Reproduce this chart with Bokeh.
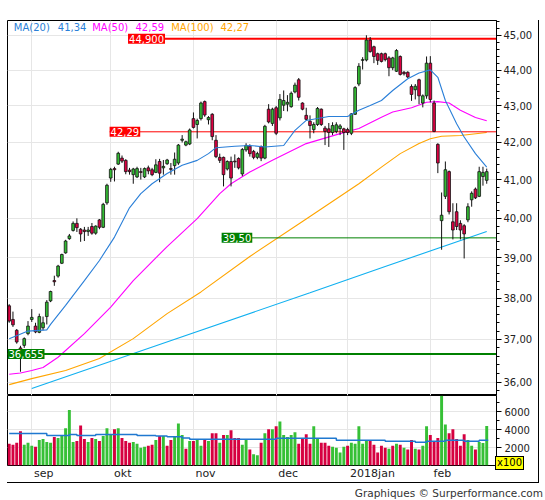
from bokeh.plotting import figure
from bokeh.models import (Range1d, FixedTicker, CustomJSTickFormatter, Label,
                          Div, ColumnDataSource)
from bokeh.layouts import column
from bokeh.embed import file_html
from bokeh.resources import INLINE
from bokeh.core.properties import value

FONT = "DejaVu Sans"

# ------------------------------------------------------------------ data
month_labels = ["sep", "okt", "nov", "dec", "2018jan", "feb"]
month_start = [6, 27, 49, 71, 90, 112]          # trading-day index of first day of month

opens = [37.81, 37.48, 37.22, 36.80, 36.86, 37.14, 37.48, 37.32, 37.17, 37.28,
         37.55, 37.93, 38.43, 38.54, 38.86, 39.12, 39.48, 39.69, 39.87, 39.72,
         39.70, 39.66, 39.79, 39.62, 39.96, 39.77, 40.40, 41.05, 41.30, 41.42,
         41.58, 41.52, 41.26, 41.14, 41.08, 41.22, 41.08, 41.32, 41.27, 41.20,
         41.49, 41.32, 41.43, 41.30, 41.38, 41.45, 42.06, 41.93, 41.96, 42.65,
         42.49, 42.65, 43.12, 42.62, 42.77, 42.06, 41.60, 41.60, 41.29, 41.49,
         41.50, 41.57, 41.16, 41.80, 41.90, 41.76, 41.60, 41.89, 41.58, 42.91,
         42.52, 42.95, 42.67, 43.02, 43.05, 42.98, 43.39, 43.73, 43.08, 42.74,
         42.58, 42.35, 42.49, 42.91, 42.39, 42.37, 42.27, 42.30, 42.38, 42.37,
         42.35, 42.25, 42.77, 43.61, 44.28, 44.29, 44.86, 44.67, 44.47, 44.47,
         44.47, 44.35, 44.07, 43.97, 44.39, 43.94, 43.94, 43.54, 43.45, 43.73,
         43.08, 43.28, 44.20, 43.08, 41.95, 39.94, 40.57, 41.22, 39.91, 40.17,
         39.87, 39.81, 39.96, 40.48, 40.76, 40.57, 41.09, 40.99]
highs = [37.85, 37.67, 37.25, 36.85, 37.05, 37.44, 37.73, 37.40, 37.62, 37.55,
         37.95, 38.18, 38.55, 38.82, 39.10, 39.45, 39.60, 39.92, 40.00, 39.75,
         39.78, 39.78, 39.88, 39.82, 39.98, 40.40, 40.90, 41.32, 41.35, 41.75,
         41.65, 41.55, 41.32, 41.32, 41.35, 41.32, 41.33, 41.38, 41.32, 41.55,
         41.56, 41.53, 41.56, 41.45, 41.73, 41.96, 42.20, 42.05, 42.38, 42.82,
         42.65, 43.12, 43.15, 42.72, 42.80, 42.20, 41.70, 41.62, 41.52, 41.62,
         41.68, 41.60, 41.85, 41.98, 41.95, 41.80, 41.75, 41.92, 42.48, 43.05,
         42.95, 43.00, 43.33, 43.43, 43.30, 43.40, 43.65, 43.78, 43.10, 42.95,
         42.74, 42.55, 42.97, 42.93, 42.45, 42.53, 42.55, 42.55, 42.50, 42.40,
         42.40, 42.80, 43.55, 44.20, 44.37, 45.00, 44.95, 44.70, 44.50, 44.50,
         44.50, 44.40, 44.38, 44.60, 44.42, 43.98, 43.97, 43.60, 43.61, 43.76,
         43.32, 44.39, 44.40, 43.15, 41.98, 40.67, 41.49, 41.25, 40.39, 40.39,
         39.95, 39.85, 40.39, 40.70, 40.80, 41.35, 41.35, 41.30]
lows = [37.40, 37.30, 36.90, 36.24, 36.80, 37.10, 37.42, 37.15, 37.15, 37.22,
        37.36, 37.90, 38.30, 38.50, 38.84, 39.10, 39.45, 39.66, 39.65, 39.40,
        39.42, 39.55, 39.58, 39.58, 39.72, 39.75, 40.35, 40.95, 40.96, 41.40,
        41.45, 41.15, 41.14, 40.90, 41.05, 41.01, 41.05, 41.15, 41.10, 41.18,
        40.94, 41.14, 41.40, 41.14, 41.14, 41.40, 42.00, 41.90, 41.93, 42.38,
        42.11, 42.60, 42.70, 42.49, 42.06, 41.58, 41.45, 40.83, 41.25, 40.83,
        41.32, 41.28, 41.10, 41.75, 41.62, 41.55, 41.55, 41.50, 41.55, 42.52,
        42.45, 42.20, 42.60, 42.86, 42.85, 42.95, 43.35, 43.15, 42.88, 42.60,
        42.11, 42.25, 42.45, 42.45, 41.93, 41.88, 42.20, 42.25, 42.20, 41.80,
        42.20, 42.20, 42.75, 43.55, 44.02, 44.25, 44.50, 44.20, 44.15, 44.22,
        44.25, 43.83, 44.00, 43.95, 43.85, 43.85, 43.78, 43.14, 43.18, 43.05,
        42.96, 43.20, 43.10, 42.28, 41.18, 39.20, 40.50, 40.10, 39.46, 39.70,
        39.46, 38.98, 39.90, 40.30, 40.50, 40.55, 40.85, 40.90]
closes = [37.44, 37.35, 36.94, 36.62, 37.02, 37.32, 37.53, 37.18, 37.55, 37.40,
          37.90, 38.16, 38.40, 38.79, 39.08, 39.42, 39.55, 39.87, 39.76, 39.60,
          39.66, 39.70, 39.62, 39.80, 39.77, 40.36, 40.86, 41.28, 41.27, 41.71,
          41.50, 41.22, 41.22, 41.29, 41.30, 41.20, 41.30, 41.24, 41.14, 41.40,
          41.18, 41.36, 41.53, 41.28, 41.55, 41.93, 42.09, 42.02, 42.34, 42.41,
          42.60, 43.08, 42.75, 42.68, 42.16, 41.62, 41.52, 41.14, 41.49, 41.05,
          41.48, 41.32, 41.81, 41.92, 41.70, 41.60, 41.70, 41.58, 42.44, 42.56,
          42.91, 42.25, 43.18, 43.15, 43.10, 43.35, 43.58, 43.24, 42.91, 42.63,
          42.46, 42.49, 42.93, 42.49, 42.30, 42.27, 42.46, 42.48, 42.45, 42.27,
          42.27, 42.78, 43.51, 44.11, 44.30, 44.86, 44.53, 44.39, 44.28, 44.25,
          44.30, 44.07, 44.35, 44.56, 43.88, 43.90, 43.81, 43.32, 43.55, 43.28,
          43.28, 44.20, 43.18, 42.30, 41.45, 40.08, 41.27, 40.17, 39.70, 39.79,
          39.70, 39.60, 40.30, 40.65, 40.53, 41.22, 41.20, 41.22]

volumes = [2420, 2310, 2530, 3820, 2310, 2530, 2200, 2100, 2850, 2960,
           2630, 2530, 3170, 3060, 3390, 4140, 6180, 2630, 2740, 4460,
           2960, 2630, 3060, 2960, 2740, 3280, 4140, 3490, 4030, 4140,
           3060, 2740, 2530, 2630, 2420, 1990, 2100, 2200, 2310, 2850,
           3280, 3280, 2200, 2850, 3170, 4680, 3390, 1880, 2740, 2740,
           2850, 2200, 2850, 2740, 3600, 3600, 2530, 3390, 3390, 3920,
           3060, 3060, 2310, 2890, 1770, 1240, 1130, 2530, 3600, 4030,
           4030, 4360, 4890, 3390, 3170, 3390, 3710, 2420, 3060, 3490,
           2420, 4360, 3060, 2530, 2530, 2200, 2100, 1990, 1450, 2100,
           2200, 2530, 2420, 4360, 2420, 2740, 2740, 2310, 1450, 2200,
           1990, 1880, 2200, 2420, 2310, 1990, 1770, 2850, 1880, 1770,
           2200, 4360, 3390, 2740, 3060, 7760, 4570, 3600, 4030, 2960,
           2200, 3490, 2850, 2200, 1770, 2630, 2500, 4400]
volume_dir = ["r", "r", "r", "r", "g", "g", "g", "r", "g", "g",
              "g", "g", "r", "g", "g", "g", "g", "g", "r", "r",
              "r", "g", "r", "g", "r", "g", "g", "g", "r", "g",
              "r", "r", "r", "g", "g", "g", "g", "r", "r", "g",
              "r", "g", "r", "r", "g", "g", "g", "r", "g", "r",
              "g", "g", "r", "g", "r", "r", "g", "r", "g", "r",
              "r", "r", "g", "g", "r", "g", "g", "r", "g", "r",
              "g", "r", "g", "g", "g", "g", "g", "r", "r", "r",
              "r", "g", "g", "r", "r", "r", "g", "g", "g", "g",
              "r", "g", "g", "g", "g", "g", "r", "r", "r", "r",
              "r", "g", "r", "g", "r", "g", "r", "r", "g", "r",
              "g", "g", "r", "r", "r", "g", "g", "r", "r", "r",
              "r", "r", "g", "g", "r", "g", "g", "g"]

vol_ma_idx = [0, 10, 16, 18, 23, 34, 39, 42, 46, 48, 71, 87, 100, 108, 111, 116, 121, 125, 127.4]
vol_ma_val = [3566, 3351, 3458, 3351, 3458, 3351, 3279, 3208, 3064, 2921, 3028, 2813,
              2706, 2598, 2706, 2813, 2706, 2813, 2813]

ma20_idx = [0, 5, 10, 11, 15, 20, 24, 28, 32, 35, 38, 42, 46, 50, 53, 55, 60, 64, 68,
            73, 76, 79, 85, 90, 93, 96, 99, 102, 106, 109, 112, 114, 116, 119, 121, 124, 127]
ma20_val = [37.02, 37.20, 37.23, 37.36, 37.82, 38.43, 38.93, 39.52, 40.27, 40.64, 40.90,
            41.17, 41.39, 41.52, 41.70, 41.86, 41.90, 41.92, 41.88, 41.92, 42.33, 42.60,
            42.71, 42.71, 42.88, 43.01, 43.15, 43.43, 43.76, 43.92, 44.01, 43.80, 43.15,
            42.51, 42.15, 41.70, 41.34]
ma50_idx = [0, 3, 6, 9, 13, 20, 27, 33, 42, 50, 56, 59, 64, 70, 79, 88, 93, 99, 102,
            107, 111, 114, 117, 120, 124, 127]
ma50_val = [36.18, 36.21, 36.27, 36.34, 36.58, 37.14, 37.78, 38.43, 39.28, 39.99, 40.64,
            40.90, 41.21, 41.52, 41.97, 42.24, 42.38, 42.69, 42.83, 42.95, 43.10, 43.12,
            43.08, 42.88, 42.68, 42.59]
ma100_idx = [0, 6, 15, 24, 33, 42, 51, 64, 78, 93, 99, 104, 109, 112, 115, 120, 127]
ma100_val = [35.94, 36.08, 36.27, 36.55, 37.02, 37.62, 38.15, 39.03, 39.92, 40.90, 41.34,
             41.70, 41.97, 42.10, 42.17, 42.19, 42.27]
ma200_idx = [6, 40, 80, 100, 127]
ma200_val = [35.85, 36.88, 38.13, 38.78, 39.66]

legend_names = ["MA(20)", "MA(50)", "MA(100)"]
legend_values = ["41,34", "42,59", "42,27"]

level_values = [44.9, 42.29, 39.5, 36.655]
level_texts = ["44,900", "42,29", "39,50", "36,655"]
level_start = [31.6, 26.7, 56.5, -0.45]

price_ticks = [36, 37, 38, 39, 40, 41, 42, 43, 44, 45]
volume_ticks = [2000, 4000, 6000]
volume_unit = "x100"
footer_text = "Graphiques &copy; Surperformance.com"

# ------------------------------------------------------------------ styling
GREEN = "#33bb33"
RED = "#dc0042"
VGREEN = "#36c036"
VRED = "#d60040"
GRID = "#e6e6e6"
C_MA20 = "#2a7fd8"
C_MA50 = "#ff00ff"
C_MA100 = "#ffa500"
C_MA200 = "#10b0f0"
LEVEL_COLORS = ["#ff0000", "#ff0000", "#008000", "#008000"]
LEVEL_WIDTHS = [2, 1, 1, 2]

PX_PER = 3.76
def px2idx(px):
    return (px - 8.7) / PX_PER

n = len(opens)
idx = list(range(n))
xr = Range1d(px2idx(7), px2idx(496))

FRAME_W = 489
RIGHT_W = 42

# ------------------------------------------------------------------ main panel
p = figure(width=FRAME_W + RIGHT_W, height=375, x_range=xr, y_range=Range1d(35.69, 45.43),
           y_axis_type="log", y_axis_location="right", x_axis_location=None,
           toolbar_location=None, output_backend="svg",
           min_border_left=0, min_border_right=RIGHT_W, min_border_top=0, min_border_bottom=0,
           outline_line_color="black", outline_line_width=1,
           background_fill_color="white", border_fill_color="white")

minor = [round(35.8 + 0.2 * k, 1) for k in range(49)]
minor = [m for m in minor if abs(m - round(m)) > 0.05]
ax = p.yaxis[0]
ax.ticker = FixedTicker(ticks=price_ticks, minor_ticks=minor)
ax.formatter = CustomJSTickFormatter(code="return tick.toFixed(2).replace('.', ',');")
ax.major_label_text_font = FONT
ax.major_label_text_font_size = "10px"
ax.major_label_text_color = "#222222"
ax.major_tick_out = 5
ax.major_tick_in = 0
ax.minor_tick_out = 3
ax.minor_tick_in = 0
ax.major_label_standoff = 2
ax.axis_line_color = "black"

p.ygrid.ticker = FixedTicker(ticks=price_ticks)
p.ygrid.grid_line_color = GRID
p.xgrid.ticker = FixedTicker(ticks=month_start)
p.xgrid.grid_line_color = GRID

p.line(ma200_idx, ma200_val, line_color=C_MA200, line_width=1.1)
p.line(ma100_idx, ma100_val, line_color=C_MA100, line_width=1.1)
p.line(ma50_idx, ma50_val, line_color=C_MA50, line_width=1.1)

for v0, s0, col, w in zip(level_values, level_start, LEVEL_COLORS, LEVEL_WIDTHS):
    p.segment(x0=[s0], y0=[v0], x1=[200], y1=[v0], line_color=col, line_width=w)

src = ColumnDataSource(dict(
    x=idx,
    top=[max(o, c) for o, c in zip(opens, closes)],
    bottom=[min(o, c) for o, c in zip(opens, closes)],
    high=highs, low=lows,
    color=[GREEN if c >= o else RED for o, c in zip(opens, closes)],
))
p.segment(x0="x", y0="low", x1="x", y1="high", source=src, line_color="#111111", line_width=1)
p.vbar(x="x", width=0.72, top="top", bottom="bottom", source=src,
       fill_color="color", line_color="#111111", line_width=0.8)

p.line(ma20_idx, ma20_val, line_color=C_MA20, line_width=1.1)

for v0, s0, col, txt in zip(level_values, level_start, LEVEL_COLORS, level_texts):
    p.add_layout(Label(x=s0, y=v0, text=txt, text_color="white", text_font=FONT,
                       text_font_size="10px", text_align="left", text_baseline="middle",
                       background_fill_color=col, padding=1))

leg_px = [13.3, 57.3, 91.7, 135.0, 170.7, 220.0]
leg_txt, leg_col = [], []
for nm, vv, cc in zip(legend_names, legend_values, [C_MA20, C_MA50, C_MA100]):
    leg_txt += [nm, vv]
    leg_col += [cc, cc]
p.text(x=[px2idx(v) for v in leg_px], y=[45.23] * len(leg_px), text=leg_txt,
       text_color=leg_col, text_font=value(FONT), text_font_size=value("10px"),
       text_align="left", text_baseline="middle")

# ------------------------------------------------------------------ volume panel
v = figure(width=FRAME_W + RIGHT_W, height=87, x_range=xr, y_range=Range1d(0, 7800),
           y_axis_location="right", toolbar_location=None, output_backend="svg",
           min_border_left=0, min_border_right=RIGHT_W, min_border_top=0, min_border_bottom=0,
           outline_line_color="black", outline_line_width=1,
           background_fill_color="white", border_fill_color="white")

vy = v.yaxis[0]
vy.ticker = FixedTicker(ticks=volume_ticks, minor_ticks=[1000, 3000, 5000, 7000])
vy.formatter = CustomJSTickFormatter(code="return tick.toFixed(0);")
vy.major_label_text_font = FONT
vy.major_label_text_font_size = "10px"
vy.major_label_text_color = "#222222"
vy.major_tick_out = 5
vy.major_tick_in = 0
vy.minor_tick_out = 3
vy.minor_tick_in = 0
vy.major_label_standoff = 3

label_pos = [m + (2.5 + 6.4 * len(t) / 2) / PX_PER for m, t in zip(month_start, month_labels)]
vx = v.xaxis[0]
vx.ticker = FixedTicker(ticks=label_pos)
vx.formatter = CustomJSTickFormatter(args=dict(pos=label_pos, lab=month_labels), code="""
let b = 0, d = 1e9;
for (let k = 0; k < pos.length; k++) { const e = Math.abs(pos[k] - tick); if (e < d) { d = e; b = k; } }
return lab[b];
""")
vx.major_tick_line_color = None
vx.minor_tick_line_color = None
vx.major_tick_out = 0
vx.minor_tick_out = 0
vx.major_tick_in = 0
vx.minor_tick_in = 0
vx.axis_line_color = None
vx.major_label_standoff = 1
vx.major_label_text_font = FONT
vx.major_label_text_font_size = "11px"
vx.major_label_text_color = "#222222"

v.ygrid.ticker = FixedTicker(ticks=volume_ticks)
v.ygrid.grid_line_color = GRID
v.xgrid.ticker = FixedTicker(ticks=month_start)
v.xgrid.grid_line_color = GRID

v.vbar(x=idx, width=0.78, top=volumes, bottom=0,
       fill_color=[VGREEN if d == "g" else VRED for d in volume_dir], line_color=None)
v.step(vol_ma_idx, vol_ma_val, mode="after", line_color="#1f78d0", line_width=1.5)

chart = column(p, v, spacing=0, margin=(20, 0, 0, 7),
               styles={"border-right": "1px solid black", "border-bottom": "1px solid black"})

footer_html = (
    '<div style="position:relative;width:540px;height:10px;font-family:\'DejaVu Sans\';'
    'font-size:10px;line-height:10px;overflow:visible;">'
    '<div style="position:absolute;left:490px;top:-34px;background:#ffff00;'
    'border:1px solid #000;color:#000;padding:1px 1px;line-height:10px;white-space:nowrap;">'
    + volume_unit + '</div>'
    '<div style="position:absolute;right:2px;top:-2px;color:#333;font-size:10.5px;'
    'white-space:nowrap;">' + footer_text + '</div></div>'
)
footer = Div(text=footer_html, width=540, height=10, styles={"overflow": "visible"})

layout = column(chart, footer, spacing=0)
open("out.html", "w").write(file_html(layout, INLINE))
